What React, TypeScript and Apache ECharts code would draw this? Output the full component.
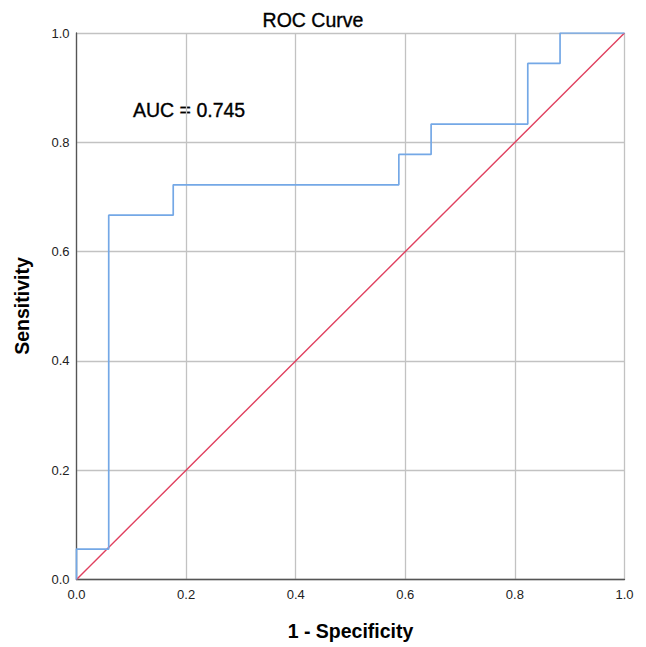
import React, { useEffect, useRef } from "react";
import * as echarts from "echarts";

// ROC curve corner points (1 - specificity, sensitivity)
const fpr = [0, 0, 0.0588, 0.0588, 0.1765, 0.1765, 0.5882, 0.5882, 0.6471, 0.6471, 0.8235, 0.8235, 0.8824, 0.8824, 1.0];
const tpr = [0, 0.0556, 0.0556, 0.6667, 0.6667, 0.7222, 0.7222, 0.7778, 0.7778, 0.8333, 0.8333, 0.9444, 0.9444, 1.0, 1.0];
const refX = [0, 1];
const refY = [0, 1];
const titleText = "ROC Curve";
const aucText = "AUC = 0.745";
const xName = "1 - Specificity";
const yName = "Sensitivity";

export default function App() {
  const ref = useRef<HTMLDivElement>(null);
  useEffect(() => {
    document.body.style.margin = "0";
    if (!ref.current) return;
    const chart = echarts.init(ref.current, undefined, { renderer: "svg" });
    const font = "'Liberation Sans', Arial, sans-serif";
    const axisCommon = {
      type: "value" as const,
      min: 0,
      max: 1,
      interval: 0.2,
      axisLine: { show: true, onZero: false, lineStyle: { color: "#555", width: 1.3 } },
      axisTick: { show: false },
      splitLine: { show: true, lineStyle: { color: "#c2c2c2", width: 1.3 } },
      axisLabel: {
        formatter: (v: number) => v.toFixed(1),
        color: "#222",
        fontSize: 13,
        fontFamily: font,
      },
    };
    const heavy = { stroke: "#000", lineWidth: 0.35 };
    chart.setOption({
      animation: false,
      backgroundColor: "#fff",
      grid: { left: 76.5, right: 21.5, top: 33, bottom: 67.5, containLabel: false },
      xAxis: { ...axisCommon, axisLabel: { ...axisCommon.axisLabel, margin: 8 } },
      yAxis: { ...axisCommon, axisLabel: { ...axisCommon.axisLabel, margin: 7 } },
      series: [
        {
          type: "line",
          data: refX.map((x, i) => [x, refY[i]]),
          showSymbol: false,
          symbol: "none",
          lineStyle: { color: "#e0405f", width: 1.4 },
          z: 2,
        },
        {
          type: "line",
          data: fpr.map((x, i) => [x, tpr[i]]),
          showSymbol: false,
          symbol: "none",
          lineStyle: { color: "#74a8e6", width: 1.7 },
          z: 3,
        },
      ],
      graphic: [
        {
          type: "text",
          x: 313,
          y: 20,
          style: { text: titleText, fontSize: 19.5, fontFamily: font, fill: "#000", ...heavy, align: "center", verticalAlign: "middle" },
        },
        {
          type: "text",
          x: 133,
          y: 110,
          style: { text: aucText, fontSize: 19.5, fontFamily: font, fill: "#000", ...heavy, align: "left", verticalAlign: "middle" },
        },
        {
          type: "text",
          x: 350.5,
          y: 631,
          style: { text: xName, fontSize: 19.5, fontWeight: "bold", fontFamily: font, fill: "#000", align: "center", verticalAlign: "middle" },
        },
        {
          type: "text",
          x: 22,
          y: 306,
          rotation: Math.PI / 2,
          style: { text: yName, fontSize: 19.5, fontWeight: "bold", fontFamily: font, fill: "#000", align: "center", verticalAlign: "middle" },
        },
      ],
    });
    return () => chart.dispose();
  }, []);
  return <div ref={ref} style={{ width: 646, height: 647 }} />;
}
